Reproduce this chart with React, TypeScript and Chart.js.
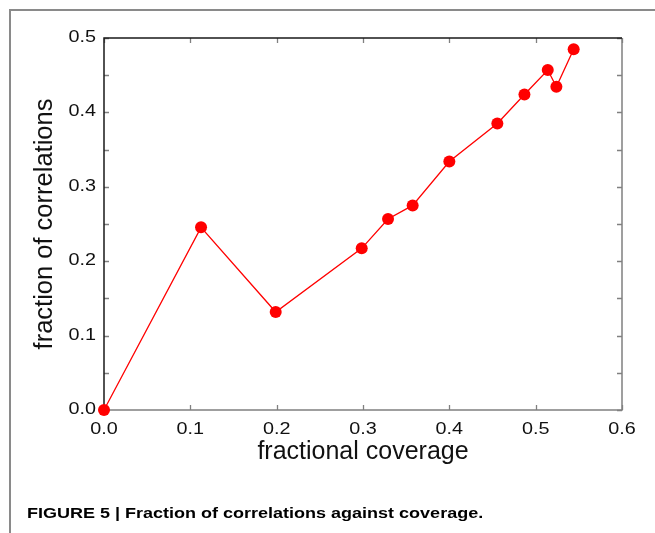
import React, { useEffect, useRef } from "react";
import { Chart, registerables } from "chart.js";

Chart.register(...registerables);

// ---- data ----
const coverage = [0, 0.1124, 0.1989, 0.2985, 0.329, 0.3575, 0.4, 0.4556, 0.487, 0.514, 0.524, 0.544];
const fraction = [0, 0.2455, 0.1317, 0.2173, 0.2567, 0.275, 0.334, 0.385, 0.424, 0.457, 0.4345, 0.485];
const xTicks = [0, 0.1, 0.2, 0.3, 0.4, 0.5, 0.6];
const yTicks = [0, 0.1, 0.2, 0.3, 0.4, 0.5];
const yMinorTicks = [0.05, 0.15, 0.25, 0.35, 0.45];
const xTitle = "fractional coverage";
const yTitle = "fraction of correlations";
const caption = "FIGURE 5 | Fraction of correlations against coverage.";

const FONT = "'Liberation Sans', Arial, Helvetica, sans-serif";

function stretchedText(ctx: CanvasRenderingContext2D, text: string, x: number, y: number, sx: number, align: CanvasTextAlign) {
  ctx.save();
  ctx.translate(x, y);
  ctx.scale(sx, 1);
  ctx.textAlign = align;
  ctx.textBaseline = "alphabetic";
  ctx.fillText(text, 0, 0);
  ctx.restore();
}

const axesPlugin = {
  id: "axesFrame",
  beforeDatasetsDraw(chart: any) {
    const { ctx, chartArea: a, scales } = chart;
    const xs = scales.x;
    const ys = scales.y;
    const L = 5;
    ctx.save();
    ctx.lineWidth = 1.3;
    ctx.strokeStyle = "#808080";
    ctx.beginPath();
    for (const v of xTicks) {
      const px = Math.round(xs.getPixelForValue(v)) + 0.5;
      ctx.moveTo(px, a.bottom);
      ctx.lineTo(px, a.bottom - L);
      ctx.moveTo(px, a.top);
      ctx.lineTo(px, a.top + L);
    }
    for (const v of [...yTicks, ...yMinorTicks]) {
      const py = Math.round(ys.getPixelForValue(v)) + 0.5;
      ctx.moveTo(a.left, py);
      ctx.lineTo(a.left + L, py);
      ctx.moveTo(a.right, py);
      ctx.lineTo(a.right - L, py);
    }
    ctx.stroke();
    ctx.lineWidth = 1.5;
    ctx.beginPath();
    ctx.moveTo(a.left, a.bottom);
    ctx.lineTo(a.right, a.bottom);
    ctx.lineTo(a.right, a.top);
    ctx.stroke();
    ctx.strokeStyle = "#1a1a1a";
    ctx.beginPath();
    ctx.moveTo(a.left, a.bottom);
    ctx.lineTo(a.left, a.top);
    ctx.lineTo(a.right, a.top);
    ctx.stroke();

    // tick labels
    ctx.fillStyle = "#111";
    ctx.font = `16.5px ${FONT}`;
    for (const v of yTicks) {
      const py = ys.getPixelForValue(v);
      stretchedText(ctx, v.toFixed(1), a.left - 8, py + 4, 1.2, "right");
    }
    for (const v of xTicks) {
      const px = xs.getPixelForValue(v);
      stretchedText(ctx, v.toFixed(1), px, a.bottom + 24, 1.2, "center");
    }

    // titles
    ctx.font = `25px ${FONT}`;
    ctx.textAlign = "center";
    ctx.textBaseline = "alphabetic";
    ctx.fillText(xTitle, (a.left + a.right) / 2, a.bottom + 49);
    ctx.save();
    ctx.translate(52, (a.top + a.bottom) / 2);
    ctx.rotate(-Math.PI / 2);
    ctx.font = `25.5px ${FONT}`;
    ctx.fillText(yTitle, 0, 0);
    ctx.restore();
    ctx.restore();
  },
};

export default function App() {
  const ref = useRef<HTMLCanvasElement | null>(null);

  useEffect(() => {
    if (!ref.current) return;
    const chart = new Chart(ref.current, {
      type: "line",
      data: {
        datasets: [
          {
            data: coverage.map((c, i) => ({ x: c, y: fraction[i] })),
            borderColor: "#ff0000",
            backgroundColor: "#ff0000",
            borderWidth: 1.3,
            pointRadius: 6,
            pointHoverRadius: 6,
            pointBackgroundColor: "#ff0000",
            pointBorderWidth: 0,
            tension: 0,
            clip: false as any,
          },
        ],
      },
      options: {
        animation: false,
        responsive: false,
        devicePixelRatio: 1,
        layout: { padding: { left: 104, top: 38, right: 33, bottom: 123 } },
        plugins: { legend: { display: false }, tooltip: { enabled: false } },
        events: [],
        scales: {
          x: { type: "linear", min: 0, max: 0.6, display: false },
          y: { type: "linear", min: 0, max: 0.5, display: false },
        },
      },
      plugins: [axesPlugin],
    });
    return () => chart.destroy();
  }, []);

  return (
    <div style={{ position: "fixed", left: 0, top: 0, width: 655, height: 533, overflow: "hidden", background: "#fff" }}>
      <div
        style={{
          position: "absolute",
          left: 9,
          top: 9,
          width: 800,
          height: 700,
          borderLeft: "2px solid #8a8a8a",
          borderTop: "2px solid #8a8a8a",
        }}
      />
      <canvas ref={ref} width={655} height={533} style={{ position: "absolute", left: 0, top: 0, width: 655, height: 533 }} />
      <div
        style={{
          position: "absolute",
          left: 27,
          top: 505,
          font: `bold 15px ${FONT}`,
          lineHeight: "15px",
          whiteSpace: "nowrap",
          color: "#000",
          transform: "scaleX(1.2)",
          transformOrigin: "left top",
        }}
      >
        {caption}
      </div>
    </div>
  );
}
